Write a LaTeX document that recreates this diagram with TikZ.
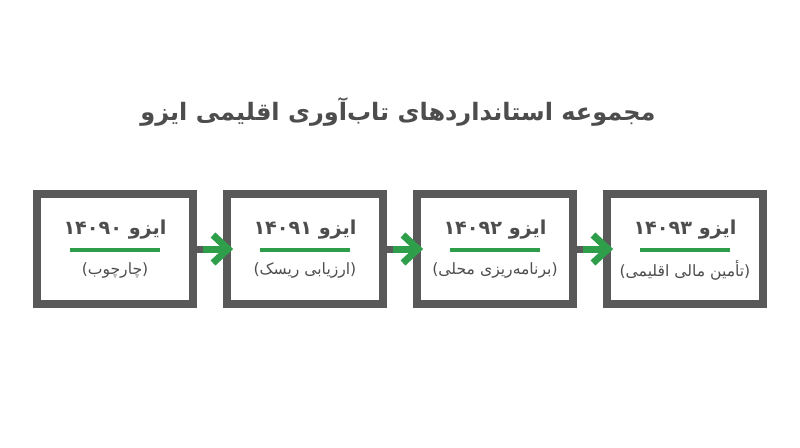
\documentclass[tikz,border=0pt]{standalone}
\usepackage{fontspec}
\usepackage{xcolor}
\usepackage{tikz}
\newfontfamily\arabicfont[Script=Arabic]{DejaVu Sans}
\TeXXeTstate=1
\definecolor{boxgray}{HTML}{595959}
\definecolor{textgray}{HTML}{4D4D4D}
\definecolor{isogreen}{HTML}{2E9E4B}

\tikzset{
  stdbox/.style={draw=boxgray,line width=4pt,minimum width=78pt,minimum height=55pt,inner sep=0pt},
  title/.style={font=\arabicfont\bfseries\fontsize{12}{14}\selectfont,text=textgray},
  isoname/.style={font=\arabicfont\bfseries\fontsize{9.6}{11}\selectfont,text=textgray},
  subname/.style={font=\arabicfont\fontsize{7.8}{9}\selectfont,text=textgray},
  rule/.style={draw=isogreen,line width=2pt},
  link/.style={draw=boxgray,line width=3.5pt},
  flow/.style={draw=isogreen,line width=3.5pt,line join=miter}
}

\begin{document}
\begin{tikzpicture}[x=0.5pt,y=-0.5pt]
  \useasboundingbox (0,0) rectangle (800,447);
  \node[title] (head) at (398,112) {\beginR مجموعه استانداردهای تاب^^^^200cآوری اقلیمی ایزو\endR};
  \foreach \i/\num/\sub [evaluate=\i as \x using 115+190*(\i-1)] in
      {1/۱۴۰۹۰/چارچوب, 2/۱۴۰۹۱/ارزیابی ریسک, 3/۱۴۰۹۲/برنامه^^^^200cریزی محلی, 4/۱۴۰۹۳/تأمین مالی اقلیمی}
  {
    \node[stdbox] (box\i) at (\x,249) {};
    \node[isoname] (iso\i) at (\x,230) {\beginR ایزو \num\endR};
    \draw[rule] (\x-45,250) -- (\x+45,250);
    \node[subname] (sub\i) at (\x,270) {\beginR(\sub)\endR};
  }
  % arrows between the boxes
  \foreach \i [count=\j from 2] in {1,2,3}
  {
    \coordinate (gap\i) at ([xshift=3pt]box\i.east);
    \coordinate (tip\i) at ([xshift=2.5pt]box\j.west);
    \draw[link] (box\i.east) -- (gap\i);
    \draw[flow] (gap\i) -- (tip\i);
    \draw[flow] ([shift={(-15,-14)}]tip\i) -- (tip\i) -- ([shift={(-15,14)}]tip\i);
  }
\end{tikzpicture}
\end{document}
